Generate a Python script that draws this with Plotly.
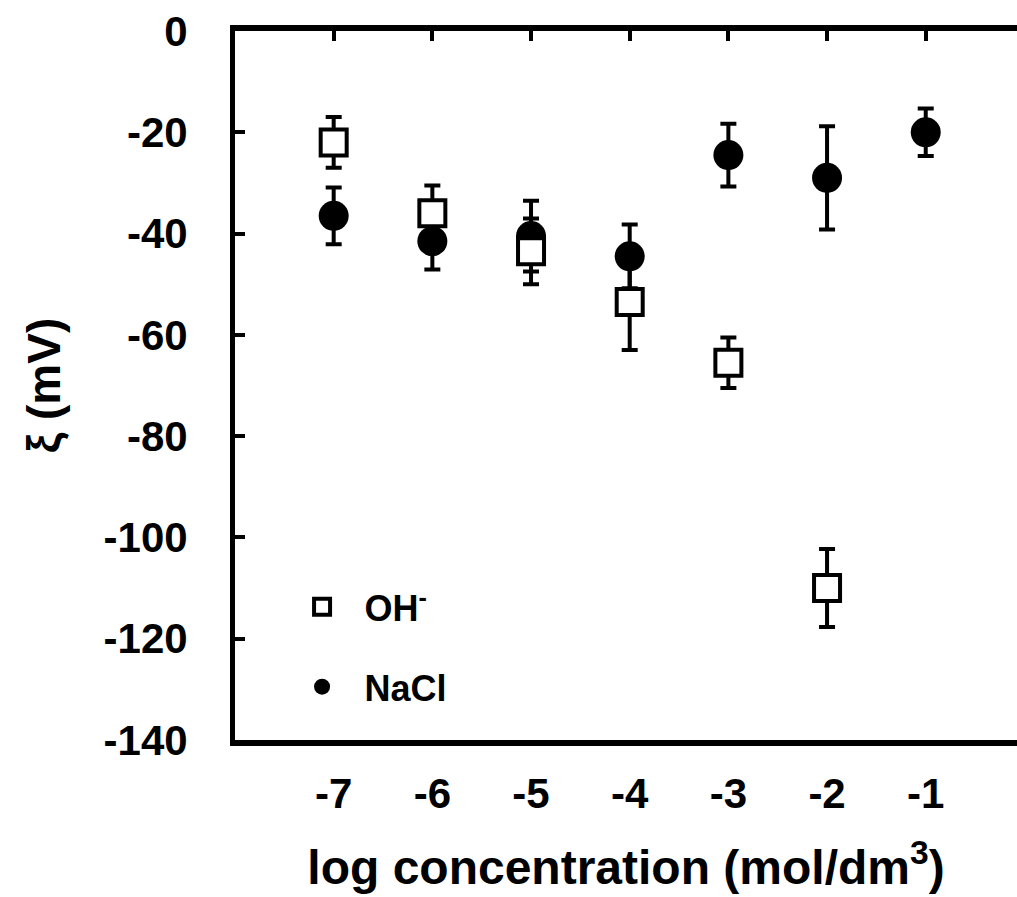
import plotly.graph_objects as go

# Data
oh_x = [-7, -6, -5, -4, -3, -2]
oh_y = [-22, -36, -43.5, -53.5, -65.5, -110]
oh_err = [5, 5.5, 6.5, 9.5, 5, 7.7]

nacl_x = [-7, -6, -5, -4, -3, -2, -1]
nacl_y = [-36.5, -41.5, -40.5, -44.5, -24.5, -29, -20]
nacl_err = [5.6, 5.6, 7, 6.3, 6.2, 10.2, 4.7]

x_ticks = [-7, -6, -5, -4, -3, -2, -1]
x_labels = ["-7", "-6", "-5", "-4", "-3", "-2", "-1"]
y_ticks = [0, -20, -40, -60, -80, -100, -120, -140]
y_labels = ["0", "-20", "-40", "-60", "-80", "-100", "-120", "-140"]

FONT = "Arial, Liberation Sans, sans-serif"

fig = go.Figure()

fig.add_trace(go.Scatter(
    x=nacl_x, y=nacl_y, mode="markers", name="NaCl",
    legendgroup="b", legendrank=2,
    marker=dict(symbol="circle", size=30, color="black", line=dict(width=0)),
    error_y=dict(type="data", array=nacl_err, visible=True, color="black",
                 thickness=4, width=8),
))
fig.add_trace(go.Scatter(
    x=oh_x, y=oh_y, mode="markers", name="OH<sup>-</sup>",
    legendgroup="a", legendrank=1,
    marker=dict(symbol="square", size=26, color="white",
                line=dict(color="black", width=4)),
    error_y=dict(type="data", array=oh_err, visible=True, color="black",
                 thickness=4, width=8),
))
# invisible trace on top axis to make it render
fig.add_trace(go.Scatter(x=[x_ticks[0]], y=[y_ticks[0]], xaxis="x2",
                         mode="markers", marker=dict(opacity=0),
                         showlegend=False, hoverinfo="skip"))

fig.update_layout(
    width=1017, height=897,
    margin=dict(l=235, r=0, t=31, b=157),
    paper_bgcolor="white", plot_bgcolor="white",
    font=dict(family=FONT, color="black", size=36, weight="bold"),
    xaxis=dict(
        range=[-8, -0.075], tickvals=x_ticks, ticktext=x_labels,
        showline=True, linecolor="black", linewidth=6,
        ticks="", showgrid=False, zeroline=False,
        tickfont=dict(size=42, family=FONT, weight="bold"),
        ticklabelstandoff=12,
        title=dict(text="log concentration (mol/dm<sup>3</sup>)",
                   font=dict(size=48, family=FONT, weight="bold"),
                   standoff=36),
    ),
    xaxis2=dict(
        overlaying="x", matches="x", side="top", tickvals=x_ticks,
        showline=True, linecolor="black", linewidth=6,
        ticks="inside", ticklen=10, tickwidth=4, tickcolor="black",
        showticklabels=False, showgrid=False, zeroline=False,
    ),
    yaxis=dict(
        range=[-140, 0], tickvals=y_ticks, ticktext=y_labels,
        showline=True, linecolor="black", linewidth=5,
        ticks="inside", ticklen=10, tickwidth=4, tickcolor="black",
        showgrid=False, zeroline=False,
        tickfont=dict(size=42, family=FONT, weight="bold"),
        ticklabelstandoff=34,
        title=dict(text="ξ (mV)",
                   font=dict(size=46, family=FONT, weight="bold"),
                   standoff=30),
    ),
    legend=dict(
        x=0.057, y=0.23, xanchor="left", yanchor="top",
        bgcolor="rgba(0,0,0,0)", borderwidth=0,
        font=dict(size=36, family=FONT, weight="bold"),
        tracegroupgap=30, itemwidth=75,
    ),
    showlegend=True,
)

fig.write_html("out.html")
